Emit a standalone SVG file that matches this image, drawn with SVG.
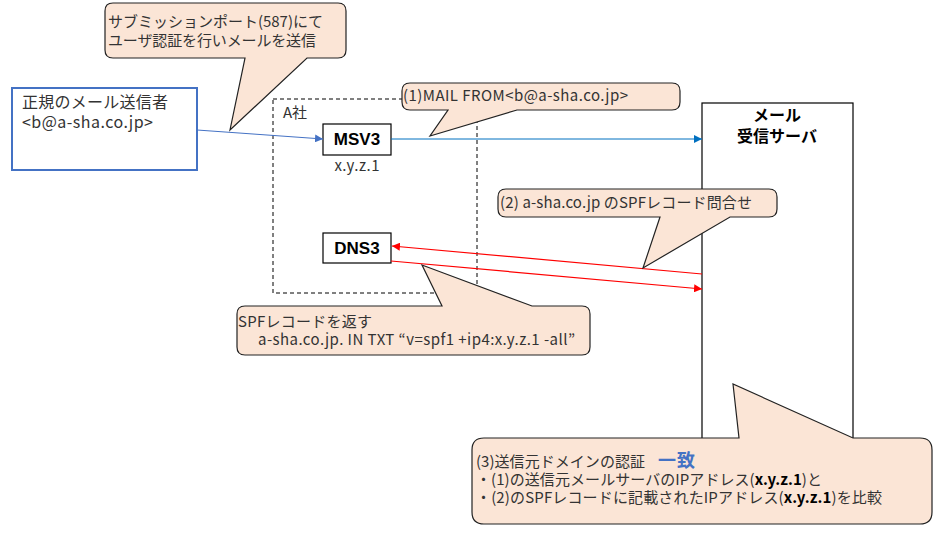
<svg xmlns="http://www.w3.org/2000/svg" width="941" height="533" viewBox="0 0 941 533">
<defs>
<style>
text{font-family:"Noto Sans CJK JP","Noto Sans",sans-serif;font-size:15px;fill:#333}
.b{font-family:"Liberation Sans","Noto Sans CJK JP",sans-serif;font-weight:bold;fill:#000;font-size:17px}
.call{fill:#FBE5D6;stroke:#222;stroke-width:1.2}
.node{fill:#fff;stroke:#000;stroke-width:1.2}
</style>
<marker id="ab" viewBox="0 0 10 10" refX="10" refY="5" markerWidth="8" markerHeight="8" orient="auto" markerUnits="userSpaceOnUse"><path d="M0,0 L10,5 L0,10 Z" fill="#4472C4"/></marker>
<marker id="ab2" viewBox="0 0 10 10" refX="10" refY="5" markerWidth="8" markerHeight="8" orient="auto" markerUnits="userSpaceOnUse"><path d="M0,0 L10,5 L0,10 Z" fill="#0070C0"/></marker>
<marker id="ar" viewBox="0 0 10 10" refX="10" refY="5" markerWidth="8" markerHeight="8" orient="auto" markerUnits="userSpaceOnUse"><path d="M0,0 L10,5 L0,10 Z" fill="#FF0000"/></marker>
</defs>
<rect width="941" height="533" fill="#fff"/>

<g id="companyA">
<rect x="273" y="99" width="204" height="194" fill="none" stroke="#000" stroke-width="1" stroke-dasharray="4,3"/>
<text x="283" y="118">A社</text>
</g>

<g id="server">
<rect class="node" x="702" y="103" width="151" height="340"/>
<text class="b" text-anchor="middle" style="font-size:16px"><tspan x="777" y="121">メール</tspan><tspan x="777" y="142">受信サーバ</tspan></text>
</g>

<g id="sender">
<rect x="12" y="88" width="185" height="82" fill="#fff" stroke="#4472C4" stroke-width="2"/>
<text style="font-size:16px"><tspan x="22" y="108" textLength="146" lengthAdjust="spacing">正規のメール送信者</tspan><tspan x="22" y="128" textLength="131" lengthAdjust="spacing">&lt;b@a-sha.co.jp&gt;</tspan></text>
</g>

<g id="msv3">
<rect class="node" x="323" y="124" width="68" height="31"/>
<text class="b" x="357" y="145" text-anchor="middle">MSV3</text>
<text x="357" y="171" text-anchor="middle" textLength="45" lengthAdjust="spacing">x.y.z.1</text>
</g>

<g id="dns3">
<rect class="node" x="323" y="233" width="68" height="30"/>
<text class="b" x="357" y="254" text-anchor="middle">DNS3</text>
</g>

<g id="connectors">
<line x1="197" y1="130" x2="323" y2="139" stroke="#4472C4" stroke-width="1" marker-end="url(#ab)"/>
<line x1="391" y1="139" x2="702" y2="139" stroke="#0070C0" stroke-width="1" marker-end="url(#ab2)"/>
<line x1="702" y1="274" x2="392" y2="246" stroke="#FF0000" stroke-width="1.2" marker-end="url(#ar)"/>
<line x1="391" y1="261" x2="702" y2="289" stroke="#FF0000" stroke-width="1.2" marker-end="url(#ar)"/>
</g>

<g id="callout-submission">
<path class="call" d="M113,3 H338 Q346,3 346,11 V50 Q346,58 338,58 H307 L230,130 L245,58 H113 Q105,58 105,50 V11 Q105,3 113,3 Z"/>
<text><tspan x="108" y="27" textLength="215" lengthAdjust="spacing">サブミッションポート(587)にて</tspan><tspan x="108" y="46" textLength="208" lengthAdjust="spacing">ユーザ認証を行いメールを送信</tspan></text>
</g>

<g id="callout-mailfrom">
<path class="call" d="M410,83 H672 Q680,83 680,91 V102 Q680,110 672,110 H517 L430,136 L448,110 H410 Q402,110 402,102 V91 Q402,83 410,83 Z"/>
<text x="403" y="101" textLength="225" lengthAdjust="spacing">(1)MAIL FROM&lt;b@a-sha.co.jp&gt;</text>
</g>

<g id="callout-query">
<path class="call" d="M506,189 H769 Q777,189 777,197 V209 Q777,217 769,217 H730 L643,268 L660,217 H506 Q498,217 498,209 V197 Q498,189 506,189 Z"/>
<text x="500" y="208" textLength="252" lengthAdjust="spacing">(2) a-sha.co.jp のSPFレコード問合せ</text>
</g>

<g id="callout-spf">
<path class="call" d="M245,306 H442 L422,265 L532,306 H582 Q590,306 590,314 V347 Q590,355 582,355 H245 Q237,355 237,347 V314 Q237,306 245,306 Z"/>
<text><tspan x="238" y="327" textLength="134" lengthAdjust="spacing">SPFレコードを返す</tspan><tspan x="258" y="345" textLength="317" lengthAdjust="spacing">a-sha.co.jp. IN TXT “v=spf1 +ip4:x.y.z.1 -all”</tspan></text>
</g>

<g id="callout-auth">
<path class="call" d="M484,438 H739 L733,384 L853,438 H920 Q932,438 932,450 V512 Q932,524 920,524 H484 Q472,524 472,512 V450 Q472,438 484,438 Z"/>
<text><tspan x="476" y="467" textLength="169" lengthAdjust="spacing">(3)送信元ドメインの認証</tspan><tspan x="658" y="467" style="font-size:18px;font-weight:bold;fill:#4472C4" textLength="37" lengthAdjust="spacing">一致</tspan><tspan x="476" y="485" textLength="346" lengthAdjust="spacing">・(1)の送信元メールサーバのIPアドレス(<tspan font-weight="bold" fill="#000">x.y.z.1</tspan>)と</tspan><tspan x="476" y="503" textLength="406" lengthAdjust="spacing">・(2)のSPFレコードに記載されたIPアドレス(<tspan font-weight="bold" fill="#000">x.y.z.1</tspan>)を比較</tspan></text>
</g>
</svg>
